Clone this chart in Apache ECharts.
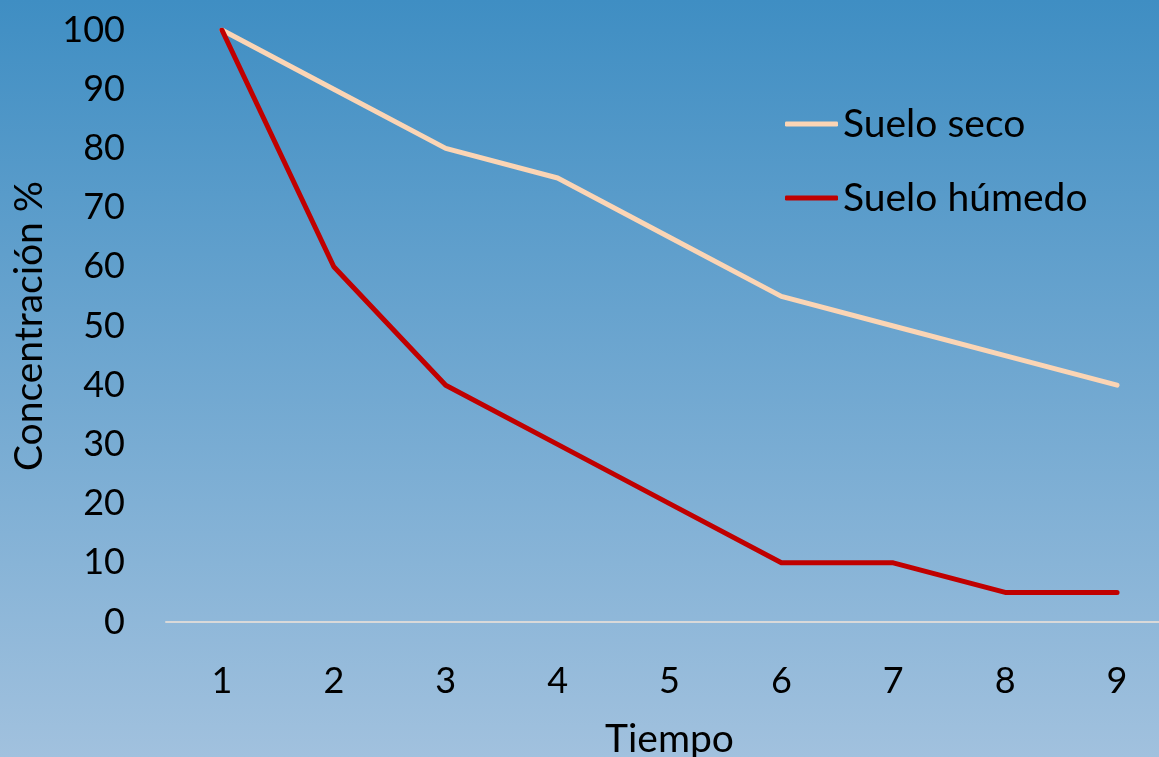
<!DOCTYPE html>
<html>
<head>
<meta charset="utf-8">
<script src="https://cdn.jsdelivr.net/npm/echarts@6/dist/echarts.min.js"></script>
<style>
  html, body { margin: 0; padding: 0; }
  #chart { width: 1159px; height: 757px; }
</style>
</head>
<body>
<div id="chart"></div>
<script>
// Time steps and concentration (%) for each soil condition
const tiempo = ['1', '2', '3', '4', '5', '6', '7', '8', '9'];
const sueloSeco = [100, 90, 80, 75, 65, 55, 50, 45, 40];
const sueloHumedo = [100, 60, 40, 30, 20, 10, 10, 5, 5];

const FONT = 'Lato';
const chart = echarts.init(document.getElementById('chart'), null, { renderer: 'canvas' });

chart.setOption({
  animation: false,
  backgroundColor: new echarts.graphic.LinearGradient(0, 0, 0, 1, [
    { offset: 0, color: '#3F8EC3' },
    { offset: 1, color: '#A1C1DE' }
  ]),
  textStyle: { fontFamily: FONT },
  grid: { left: 166, top: 30, width: 1007, height: 592, outerBoundsMode: 'none', containLabel: false },
  legend: {
    orient: 'vertical',
    left: 785,
    top: 104,
    padding: 0,
    icon: 'roundRect',
    itemWidth: 53,
    itemHeight: 5,
    itemGap: 34,
    textStyle: { fontFamily: FONT, fontSize: 39, lineHeight: 40, color: '#000' },
    data: ['Suelo seco', 'Suelo húmedo']
  },
  xAxis: {
    type: 'category',
    data: tiempo,
    boundaryGap: true,
    name: 'Tiempo',
    nameLocation: 'middle',
    nameGap: 98,
    nameTextStyle: { fontFamily: FONT, fontSize: 39, color: '#000' },
    axisLine: { show: true, lineStyle: { color: '#D9D9D9', width: 2 } },
    axisTick: { show: false },
    axisLabel: { fontFamily: FONT, fontSize: 36, color: '#000', margin: 41 },
    splitLine: { show: false }
  },
  yAxis: {
    type: 'value',
    min: 0,
    max: 100,
    interval: 10,
    name: 'Concentración %',
    nameLocation: 'middle',
    nameGap: 117,
    nameRotate: 90,
    nameTextStyle: { fontFamily: FONT, fontSize: 39, color: '#000' },
    axisLine: { show: false },
    axisTick: { show: false },
    axisLabel: { fontFamily: FONT, fontSize: 36, color: '#000', margin: 41 },
    splitLine: { show: false }
  },
  series: [
    {
      name: 'Suelo seco',
      type: 'line',
      data: sueloSeco,
      symbol: 'none',
      color: '#FBD5B5',
      lineStyle: { color: '#FBD5B5', width: 5, cap: 'round', join: 'round' }
    },
    {
      name: 'Suelo húmedo',
      type: 'line',
      data: sueloHumedo,
      symbol: 'none',
      color: '#C00000',
      lineStyle: { color: '#C00000', width: 5, cap: 'round', join: 'round' }
    }
  ]
});
</script>
</body>
</html>
